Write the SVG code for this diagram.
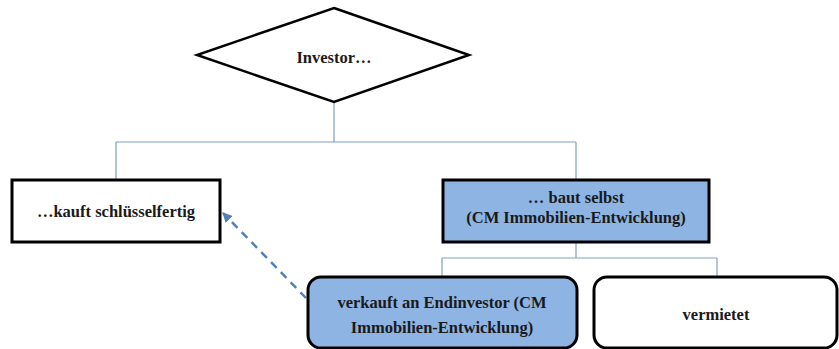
<svg xmlns="http://www.w3.org/2000/svg" width="839" height="349" viewBox="0 0 839 349">
<defs>
<style>
.t{font-family:"Liberation Serif","Times New Roman",serif;font-weight:bold;font-size:16.5px;fill:#1a1a1a;text-anchor:middle;dominant-baseline:central}
.c{fill:none;stroke:#7f9fc4;stroke-width:1.2}
.box{stroke:#000;stroke-width:3}
</style>
<marker id="ah" viewBox="0 0 10 10" refX="9" refY="5" markerWidth="4" markerHeight="4" orient="auto" markerUnits="strokeWidth">
<path d="M0,0 L10,5 L0,10 z" fill="#4f81bd"/>
</marker>
</defs>
<rect width="839" height="349" fill="#fff"/>
<g id="connectors">
<path class="c" d="M334,102 V142 M116,142 H576 M116,142 V180 M576,142 V180"/>
<path class="c" d="M576,242 V258 M442,258 H717 M442,258 V277 M717,258 V277"/>
<path d="M306,298 L223,213" fill="none" stroke="#4f81bd" stroke-width="2.5" stroke-dasharray="8,6" marker-end="url(#ah)"/>
</g>
<g id="investor">
<polygon points="334,8 469,55 334,102 197,55" fill="#fff" stroke="#000" stroke-width="2.5"/>
<text class="t" x="334" y="57">Investor…</text>
</g>
<g id="kauft">
<rect class="box" x="12" y="180" width="208" height="62" fill="#fff"/>
<text class="t" x="116" y="211">…kauft schlüsselfertig</text>
</g>
<g id="baut">
<rect class="box" x="443" y="180" width="266" height="62" fill="#8eb4e3"/>
<text class="t" x="576" y="197">… baut selbst</text>
<text class="t" x="576" y="217">(CM Immobilien-Entwicklung)</text>
</g>
<g id="verkauft">
<rect class="box" x="308" y="277" width="269" height="71" rx="13" fill="#8eb4e3" stroke-width="2.5"/>
<text class="t" x="442" y="302">verkauft an Endinvestor (CM</text>
<text class="t" x="442" y="327">Immobilien-Entwicklung)</text>
</g>
<g id="vermietet">
<rect class="box" x="594" y="277" width="243" height="71" rx="13" fill="#fff" stroke-width="2.5"/>
<text class="t" x="716" y="314">vermietet</text>
</g>
</svg>
